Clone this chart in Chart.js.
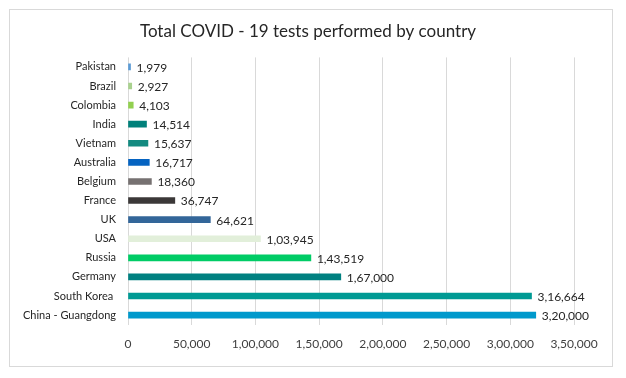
<!DOCTYPE html>
<html>
<head>
<meta charset="utf-8">
<script src="https://cdn.jsdelivr.net/npm/chart.js@4.4.1/dist/chart.umd.min.js"></script>
<style>
  body { margin: 0; background: #fff; }
  #box { position: absolute; left: 9px; top: 9px; width: 602px; height: 356px; border: 1px solid #d9d9d9; }
  #box canvas { display: block; }
</style>
</head>
<body>
<div id="box"><canvas id="mycanvas" width="602" height="356"></canvas></div>
<script>
var countries = ["Pakistan", "Brazil", "Colombia", "India", "Vietnam", "Australia", "Belgium",
                 "France", "UK", "USA", "Russia", "Germany", "South Korea ", "China - Guangdong"];
var tests = [1979, 2927, 4103, 14514, 15637, 16717, 18360, 36747, 64621, 103945, 143519, 167000, 316664, 320000];
var barColors = ["#5b9bd5", "#a9d18e", "#92d050", "#00807a", "#138a80", "#0563c1", "#767171",
                 "#3b3838", "#336699", "#e2efda", "#00cc66", "#008080", "#009a94", "#0099cc"];
var xMax = 350000;
var xStep = 50000;

// indian style grouping, 1,03,945
function inr(n) {
    var s = Math.round(n).toString();
    if (s.length <= 3) return s;
    var last = s.slice(-3);
    var rest = s.slice(0, -3);
    rest = rest.replace(/\B(?=(\d{2})+(?!\d))/g, ",");
    return rest + "," + last;
}

var fontName = "Lato, 'Open Sans', sans-serif";

// value labels at bar ends
var barLabels = {
    id: "barLabels",
    afterLayout: function(chart) {
        // title centred on the whole box, not on the padded area
        var t = chart.titleBlock;
        if (t) { t.left = 0; t.right = 596; t.width = 596; }
    },
    afterDatasetsDraw: function(chart) {
        var ctx = chart.ctx;
        var meta = chart.getDatasetMeta(0);
        ctx.save();
        ctx.font = "12px " + fontName;
        ctx.fillStyle = "#262626";
        ctx.textAlign = "left";
        ctx.textBaseline = "middle";
        meta.data.forEach(function(bar, i) {
            ctx.fillText(inr(tests[i]), bar.x + 6, bar.y + 1);
        });
        ctx.restore();
    }
};

var ctx = document.getElementById("mycanvas");
var chart = new Chart(ctx, {
    type: "bar",
    data: {
        labels: countries,
        datasets: [{
            label: "tests",
            data: tests,
            backgroundColor: barColors,
            borderWidth: 0,
            barThickness: 6
        }]
    },
    options: {
        indexAxis: "y",
        responsive: false,
        animation: false,
        layout: { padding: { left: 0, right: 38, top: 0, bottom: 3 } },
        plugins: {
            legend: { display: false },
            tooltip: { enabled: false },
            title: {
                display: true,
                text: "Total COVID - 19 tests performed by country",
                color: "#262626",
                font: { family: fontName, size: 17, weight: "normal" },
                padding: { top: 11, bottom: 16 }
            }
        },
        scales: {
            x: {
                min: 0,
                max: xMax,
                grid: { color: "#d9d9d9", drawTicks: false },
                border: { display: false },
                ticks: {
                    stepSize: xStep,
                    padding: 12,
                    color: "#404040",
                    font: { family: fontName, size: 12 },
                    callback: function(v) { return inr(v); }
                }
            },
            y: {
                grid: { display: false, drawTicks: false },
                border: { display: false },
                ticks: {
                    padding: 12,
                    color: "#262626",
                    font: { family: fontName, size: 11 }
                },
                afterFit: function(scale) { scale.width = 118; }
            }
        }
    },
    plugins: [barLabels]
});
</script>
</body>
</html>
